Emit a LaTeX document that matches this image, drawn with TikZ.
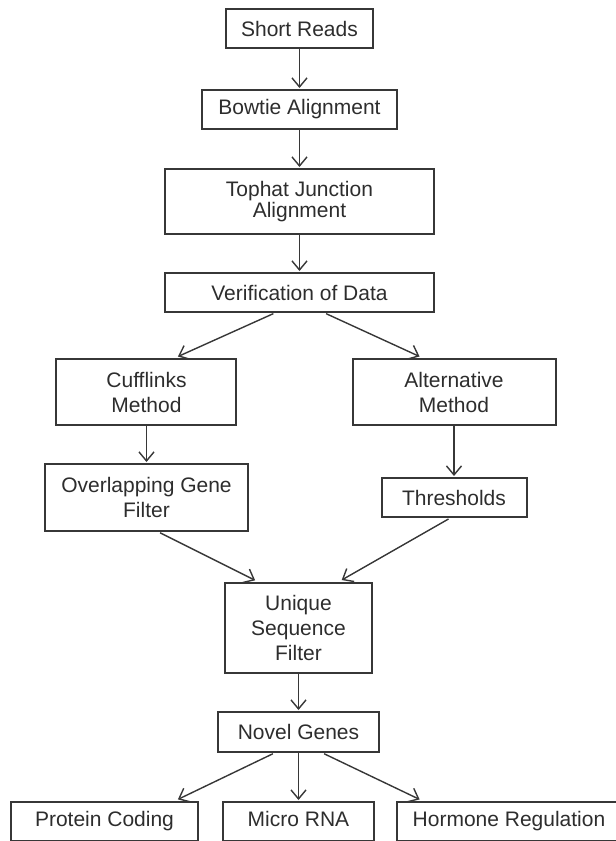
\documentclass[tikz,border=0pt]{standalone}
\usepackage{fontspec}
\setmainfont{Liberation Sans}
\usepackage{tikz}
\usetikzlibrary{positioning,arrows.meta}
\usepackage{xcolor}
\definecolor{flowline}{RGB}{55,55,55}
\definecolor{flowtext}{RGB}{45,45,45}

\begin{document}
\begin{tikzpicture}[
  node distance=20pt and 12pt,
  every node/.style={font=\fontsize{10.5}{12.5}\selectfont, text=flowtext},
  box/.style={draw=flowline, line width=1pt, inner sep=0pt, outer sep=0pt, align=center, minimum height=19.5pt},
  tallbox/.style={box, minimum height=33pt},
  leaf/.style={box, text height=7.6pt, text depth=2.2pt},
  arr/.style={-{Straight Barb[length=4.5pt,width=7.5pt]}, line width=0.7pt, draw=flowline, shorten >=1pt},
  diag/.style={arr, shorten >=3pt, shorten <=2pt}
]

\useasboundingbox (-149.75pt,14.25pt) rectangle ++(308pt,-420.5pt);

\node[box, minimum width=73.5pt] (reads) at (0,0) {Short Reads};

\node[box, minimum width=97.5pt, below=21pt of reads] (bowtie) {Bowtie Alignment};

\node[tallbox, minimum width=134pt, minimum height=32.5pt, below=20pt of bowtie] (tophat) {Tophat Junction\\[-2pt]Alignment};

\node[box, minimum width=134pt, below=19.5pt of tophat] (verify) {Verification of Data};

\node[tallbox, minimum width=90pt, below=23.5pt of verify, xshift=-76.5pt] (cufflinks) {Cufflinks\\Method};

\node[tallbox, minimum width=101.5pt, below=23.5pt of verify, xshift=77.25pt] (altmethod) {Alternative\\Method};

\node[tallbox, minimum width=101.5pt, minimum height=33.5pt, below=19.5pt of cufflinks] (overlap) {Overlapping Gene\\Filter};

\node[box, minimum width=72.5pt, below=26.5pt of altmethod] (thresh) {Thresholds};

\node[box, minimum width=73.5pt, minimum height=45pt, below=26pt of overlap, xshift=76pt] (unique) {Unique\\Sequence\\Filter};

\node[box, minimum width=80.5pt, minimum height=20pt, below=19.5pt of unique] (novel) {Novel Genes};

\node[leaf, minimum width=75.5pt, below=25pt of novel] (microrna) {Micro RNA};

\node[leaf, minimum width=93.5pt, left=12.5pt of microrna] (protein) {Protein Coding};

\node[leaf, minimum width=112pt, right=11.5pt of microrna] (hormone) {Hormone Regulation};

\draw[arr] (reads) -- (bowtie);
\draw[arr] (bowtie) -- (tophat);
\draw[arr] (tophat) -- (verify);
\draw[diag] ([xshift=-11.25pt]verify.south) -- ([xshift=13pt]cufflinks.north);
\draw[diag] ([xshift=11.5pt]verify.south) -- ([xshift=-14.5pt]altmethod.north);
\draw[arr] (cufflinks) -- (overlap);
\draw[arr] (altmethod) -- (thresh);
\draw[diag] ([xshift=5pt]overlap.south) -- ([xshift=-19pt]unique.north);
\draw[diag] ([xshift=-1pt]thresh.south) -- ([xshift=19pt]unique.north);
\draw[arr] (unique) -- (novel);
\draw[diag] ([xshift=-11pt]novel.south) -- ([xshift=34pt]protein.north);
\draw[arr] (novel) -- (microrna);
\draw[diag] ([xshift=11pt]novel.south) -- ([xshift=-42pt]hormone.north);

\end{tikzpicture}
\end{document}
